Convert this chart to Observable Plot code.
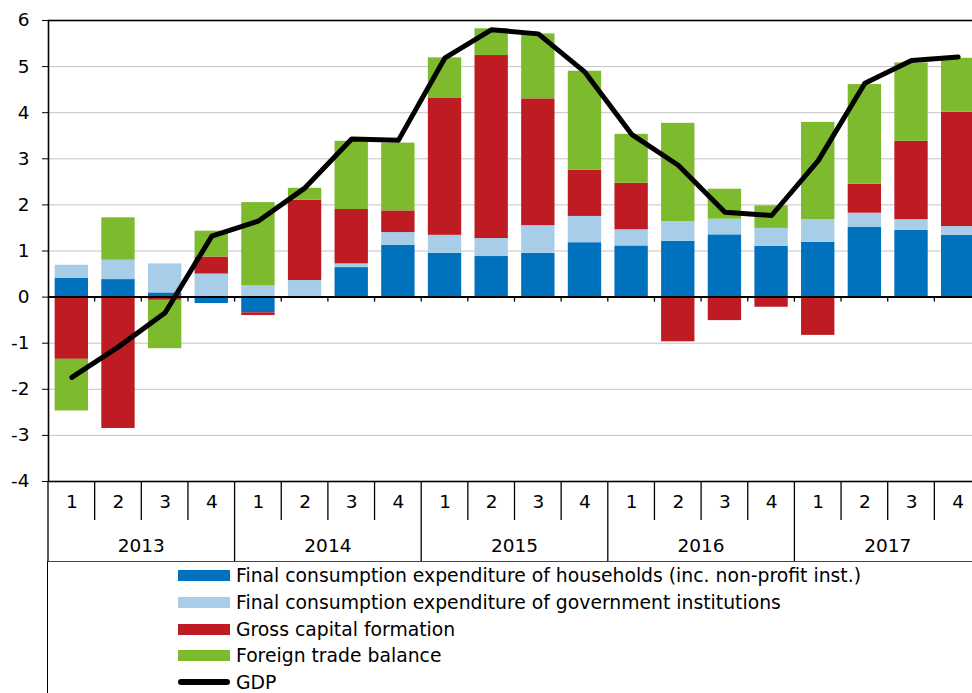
<!DOCTYPE html>
<html><head><meta charset="utf-8">
<script src="https://cdn.jsdelivr.net/npm/d3@7"></script>
<script src="https://cdn.jsdelivr.net/npm/@observablehq/plot@0.6"></script>
<style>
html,body{margin:0;padding:0;background:#fff;overflow:hidden;width:972px;height:693px;}
#chart{width:972px;height:693px;overflow:hidden;font-family:"DejaVu Sans",sans-serif;color:#000;}
#chart svg{display:block;max-width:none !important;width:982px !important;height:561px !important;}
#legend{margin-left:47px;width:940px;height:140px;border-top:1px solid #444;border-left:1.5px solid #000;box-sizing:border-box;position:relative;}
.row{position:absolute;left:130px;height:26.7px;display:flex;align-items:center;font-size:18.8px;white-space:nowrap;}
.sw{display:inline-block;width:52px;height:11px;margin-right:6px;}
</style>
</head><body>
<div id="chart"></div>
<script>
const quarters = ["1","2","3","4"];
const years = ["2013","2014","2015","2016","2017"];
const periods = years.flatMap(y => quarters.map(q => y + " Q" + q));

const seriesNames = [
  "Final consumption expenditure of households (inc. non-profit inst.)",
  "Final consumption expenditure of government institutions",
  "Gross capital formation",
  "Foreign trade balance"
];
const seriesColors = ["#0071bc", "#a7cde8", "#be1b23", "#7dba2d"];
const lineName = "GDP";

const households = [0.41, 0.38, 0.09, -0.14, -0.34, 0.00, 0.64, 1.12, 0.95, 0.88, 0.95, 1.18, 1.11, 1.21, 1.35, 1.10, 1.19, 1.51, 1.45, 1.34];
const government = [0.28, 0.42, 0.63, 0.50, 0.25, 0.36, 0.08, 0.28, 0.39, 0.39, 0.60, 0.57, 0.35, 0.43, 0.34, 0.39, 0.49, 0.31, 0.23, 0.19];
const capital    = [-1.35, -2.85, -0.07, 0.37, -0.06, 1.74, 1.18, 0.47, 2.98, 3.97, 2.75, 1.00, 1.01, -0.97, -0.51, -0.22, -0.83, 0.63, 1.70, 2.48];
const trade      = [-1.12, 0.92, -1.05, 0.56, 1.80, 0.26, 1.48, 1.47, 0.87, 0.58, 1.41, 2.15, 1.06, 2.13, 0.65, 0.49, 2.11, 2.16, 1.70, 1.17];
const gdp        = [-1.74, -1.08, -0.34, 1.32, 1.65, 2.37, 3.43, 3.40, 5.19, 5.80, 5.71, 4.88, 3.53, 2.86, 1.84, 1.77, 2.96, 4.64, 5.13, 5.21];
const yTicks = [-4, -3, -2, -1, 0, 1, 2, 3, 4, 5, 6];

const seriesValues = [households, government, capital, trade];
const data = periods.flatMap((p, i) => seriesNames.map((s, j) => ({period: p, series: s, value: seriesValues[j][i]})));
const gdpData = periods.map((p, i) => ({period: p, value: gdp[i]}));

const FS = 18.5;
const plot = Plot.plot({
  width: 982, height: 561,
  marginLeft: 48, marginRight: 1, marginTop: 20, marginBottom: 80,
  style: {fontFamily: "DejaVu Sans", fontSize: FS + "px", color: "#000", background: "transparent", overflow: "visible"},
  x: {domain: periods, paddingInner: 0.285, paddingOuter: 0.1425, round: false, axis: null},
  y: {domain: [-4, 6], axis: null},
  color: {domain: seriesNames, range: seriesColors},
  marks: [
    Plot.ruleY(yTicks.filter(d => d !== 0 && d !== -4 && d !== 6), {stroke: "#c4c4c4", strokeWidth: 1}),
    Plot.barY(data, {x: "period", y: "value", fill: "series"}),
    Plot.ruleY([0], {stroke: "#000", strokeWidth: 2}),
    Plot.lineY(gdpData, {x: "period", y: "value", stroke: "#000", strokeWidth: 5, strokeLinejoin: "round", strokeLinecap: "round"}),
    Plot.frame({stroke: "#000", strokeWidth: 1.6}),
    Plot.axisY(yTicks, {tickSize: 6, tickPadding: 13, tickFormat: d => String(d), label: null, fontSize: FS}),
    Plot.text(periods, {x: d => d, text: d => d.split(" Q")[1], frameAnchor: "bottom", dy: 26, fontSize: FS, fill: "#000"})
  ]
});

// table-style x axis decorations, positioned with the plot's own scales
const svg = d3.select(plot);
const xs = plot.scale("x"), ys = plot.scale("y");
const off = (xs.step - xs.bandwidth) / 2;
const bounds = periods.map(p => xs.apply(p) - off);
bounds.push(bounds[bounds.length - 1] + xs.step);
const yBot = ys.apply(-4), y0 = ys.apply(0);
const g = svg.append("g").attr("stroke", "#000").attr("stroke-width", 1.3);
bounds.forEach((bx, k) => {
  const isYear = k % 4 === 0;
  g.append("line").attr("x1", bx).attr("x2", bx).attr("y1", yBot).attr("y2", isYear ? 561 : yBot + 39);
  if (k > 0) g.append("line").attr("x1", bx).attr("x2", bx).attr("y1", y0).attr("y2", y0 + 5);
});
const tg = svg.append("g").attr("font-family", "DejaVu Sans").attr("font-size", FS).attr("fill", "#000").attr("text-anchor", "middle");
years.forEach((yr, i) => {
  tg.append("text").attr("x", (bounds[i * 4] + bounds[i * 4 + 4]) / 2).attr("y", yBot + 65).attr("dy", "0.35em").text(yr);
});

const chart = document.getElementById("chart");
chart.appendChild(plot);

// legend below the SVG
const legend = document.createElement("div");
legend.id = "legend";
const items = seriesNames.map((s, i) => ({name: s, color: seriesColors[i], line: false})).concat([{name: lineName, color: "#000", line: true}]);
items.forEach((it, i) => {
  const row = document.createElement("div");
  row.className = "row";
  row.style.top = (0.3 + i * 26.7) + "px";
  const sw = document.createElement("span");
  sw.className = "sw";
  sw.style.background = it.color;
  if (it.line) { sw.style.height = "6px"; sw.style.borderRadius = "3px"; }
  const tx = document.createElement("span");
  tx.textContent = it.name;
  row.appendChild(sw); row.appendChild(tx);
  legend.appendChild(row);
});
chart.appendChild(legend);
</script>
</body></html>
